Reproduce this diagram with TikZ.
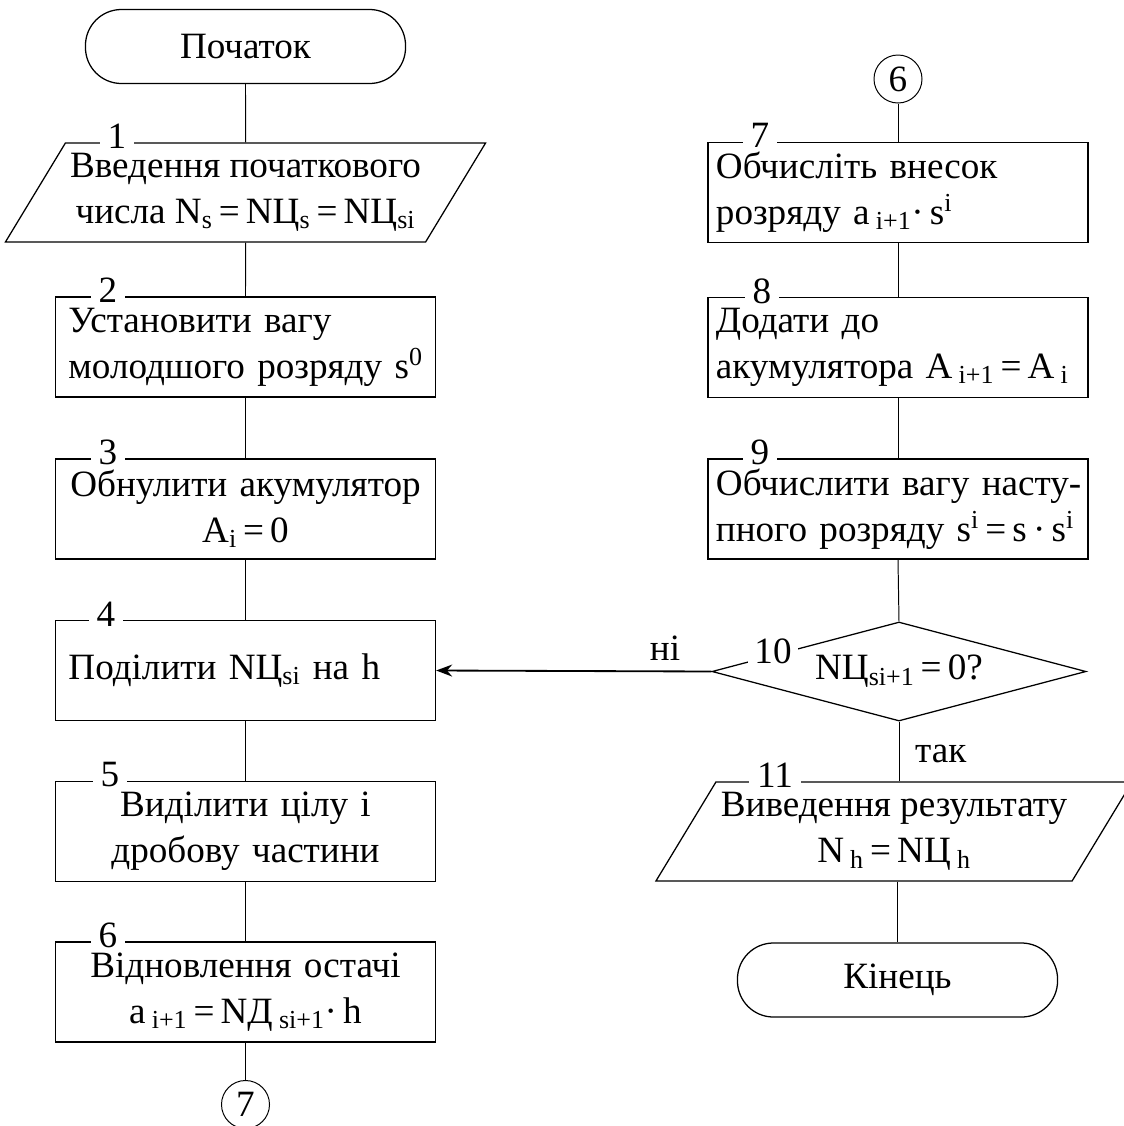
\documentclass[tikz,border=0pt]{standalone}
\usepackage{fontspec}
\setmainfont{Liberation Serif}
\usepackage{tikz}
\tikzset{x=0.025cm,y=-0.025cm}
\usetikzlibrary{arrows.meta, calc, shapes.geometric}
\def\bfont{\fontsize{26.4}{32.5}\selectfont}
\newcommand{\sbs}[1]{\textsubscript{#1}}
\newcommand{\sps}[1]{\textsuperscript{#1}}
\newcommand{\eq}{\,=\,}

\begin{document}
\begin{tikzpicture}[font=\bfont, line width=0.7pt,
  term/.style={draw, rounded corners=0.9cm, minimum width=8cm, minimum height=1.85cm, line width=0.9pt},
  proc/.style={draw, minimum width=9.5cm, minimum height=2.5cm, text width=9.1cm, inner xsep=0.2cm, line width=0.9pt},
  procl/.style={proc, text width=8.85cm, inner xsep=0.325cm},
  io/.style={draw, trapezium, trapezium left angle=55.5, trapezium right angle=124.5,
    trapezium stretches body, minimum width=11.9cm, minimum height=2.475cm, line width=0.9pt},
  decide/.style={draw, diamond, aspect=3.78, minimum width=9.35cm, minimum height=2.475cm, inner sep=0pt, line width=0.9pt},
  conn/.style={draw, circle, minimum size=1.2cm, inner sep=0pt},
  num/.style={fill=white, inner xsep=0.2cm, inner ysep=0pt, anchor=base},
  >={Stealth[length=0.4cm,width=0.3cm]}]
\useasboundingbox (0,0) rectangle (1124,1126);

% left column
\node[term] (start) at (245.5,46.5) {Початок};
\node[io, align=center] (b1) at (245.5,192.5)
  {Введення початкового\\числа N\sbs{s}\eq NЦ\sbs{s}\eq NЦ\sbs{si}};
\node[procl, align=left] (b2) at (245.5,347)
  {\mbox{Установити вагу}\\\mbox{молодшого розряду s\sps{0}}};
\node[proc, align=center] (b3) at (245.5,509)
  {Обнулити акумулятор\\A\sbs{i}\eq 0};
\node[procl, align=left] (b4) at (245.5,670.5)
  {Поділити NЦ\sbs{si} на h};
\node[proc, align=center] (b5) at (245.5,831.5)
  {Виділити цілу і\\дробову частини};
\node[proc, align=center] (b6) at (245.5,992)
  {Відновлення остачі\\a\,\sbs{i+1}\eq NД\,\sbs{si+1}·\,h};
\node[conn] (c7) at (245.5,1104.5) {\raisebox{-0.22cm}{7}};

% right column
\node[conn] (c6) at (898,79) {\raisebox{-0.22cm}{6}};
\node[proc, align=left] (b7) at (898,192.5)
  {\mbox{Обчисліть внесок}\\\mbox{розряду a\,\sbs{i+1}·\,s\sps{i}}};
\node[proc, align=left] (b8) at (898,347.5)
  {\mbox{Додати до}\\\mbox{акумулятора A\,\sbs{i+1}\eq A\,\sbs{i}}};
\node[proc, align=left] (b9) at (898,509)
  {\mbox{Обчислити вагу насту-}\\\mbox{пного розряду s\sps{i}\eq s\,·\,s\sps{i}}};
\node[decide] (dec) at (899,671.5) {\raisebox{-0.2cm}{NЦ\sbs{si+1}\eq 0?}};
\node[io, align=center] (b11) at (894,831.5)
  {Виведення результату\\N\,\sbs{h}\eq NЦ\,\sbs{h}};
\node[term] (end) at (897.5,980) {Кінець};

% block numbers
\node[num] (n1) at (117,148) {1};
\node[num] (n2) at (108,302) {2};
\node[num] (n3) at (108,464) {3};
\node[num] (n4) at (106,626) {4};
\node[num] (n5) at (110,786) {5};
\node[num] (n6) at (108,947) {6};
\node[num] (n7) at (760,147) {7};
\node[num] (n8) at (762,303) {8};
\node[num] (n9) at (760,464) {9};
\node[num, inner xsep=0.15cm] (n10) at (773,663) {10};
\node[num] (n11) at (775,787) {11};

% connectors
\draw (start.south) -- (b1.north);
\foreach \a/\b in {b1/b2, b2/b3, b3/b4, b4/b5, b5/b6, b6/c7, c6/b7, b7/b8, b8/b9, b9/dec}
  \draw (\a.south) -- (\b.north);
\draw (dec.south) -- (dec.south |- b11.north);
\draw (end.north |- b11.south) -- (end.north);
\draw[->, line width=1.3pt] (dec.west) -- (b4.east);
\node[anchor=base] (no) at (665,660) {ні};
\node[anchor=base west] (yes) at (910,762) {так};
\end{tikzpicture}
\end{document}
